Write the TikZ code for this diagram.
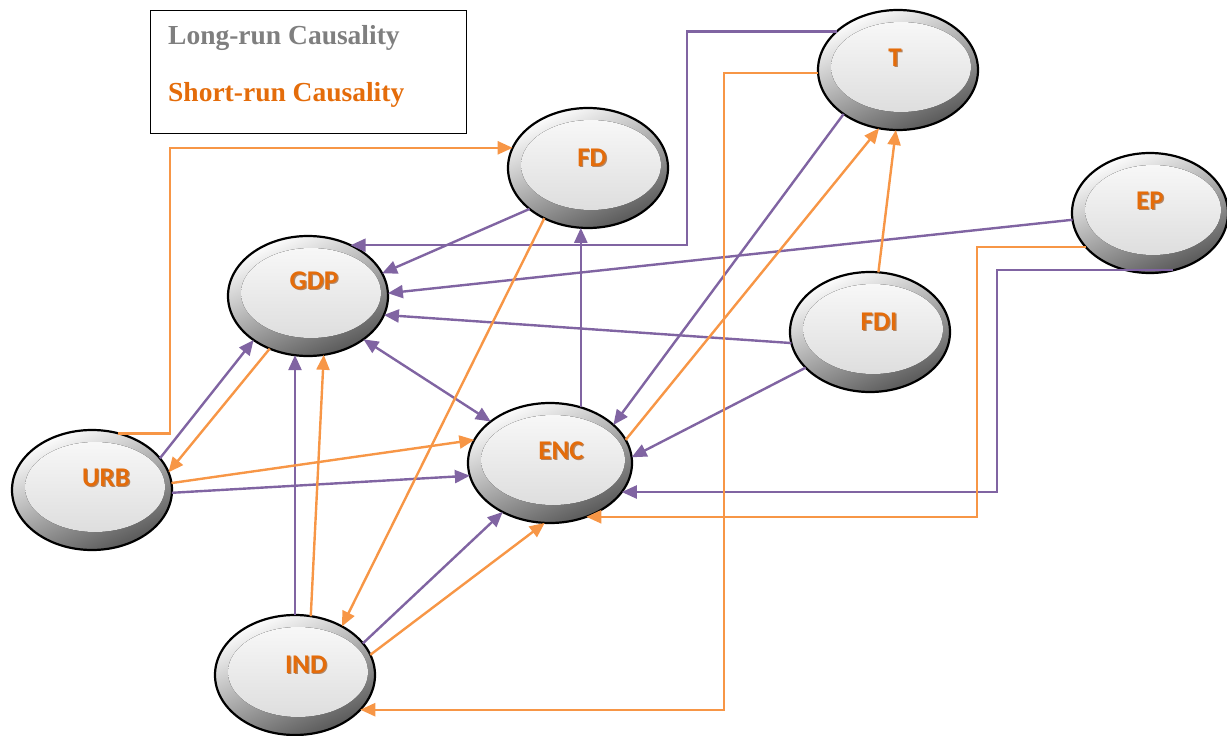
\documentclass[tikz,border=0pt]{standalone}
\usepackage{fontspec}
\setmainfont{Liberation Serif}
\newfontfamily\lblfont{Carlito}
\usetikzlibrary{arrows.meta,shapes.geometric,calc}
\definecolor{lrpurple}{RGB}{128,100,162}
\definecolor{srorange}{RGB}{247,150,70}
\definecolor{lblorange}{RGB}{228,108,10}
\definecolor{lblshadow}{RGB}{140,65,10}
\definecolor{leggray}{RGB}{127,127,127}
\begin{document}
\begin{tikzpicture}[x=1pt,y=-1pt,
  bubble/.style={ellipse, draw=black, line width=2.2pt, minimum height=120pt,
    inner sep=0pt, outer sep=0pt, top color=white, bottom color=black!66, shading angle=25},
  core/.style={top color=white!97!black, bottom color=black!13},
  lbl/.style={font=\lblfont\bfseries\fontsize{27}{27}\selectfont, text=lblorange, inner sep=0pt, anchor=base},
  lblsh/.style={lbl, text=lblshadow, opacity=0.6},
  tip/.style={-{Triangle[length=15pt,width=13pt]}},
  lr/.style={draw=lrpurple, line width=2.4pt, tip},
  sr/.style={draw=srorange, line width=2.4pt, tip},
  legtext/.style={font=\bfseries\fontsize{27.5}{28}\selectfont, inner sep=0pt, anchor=base west}
]
\useasboundingbox (0,0) rectangle (1227,736);

% legend
\node[draw=black, line width=1.2pt, minimum width=316pt, minimum height=123pt, anchor=north west, inner sep=0pt] (legend) at (150,10) {};
\node[legtext, text=leggray] (lrtext) at (168,45) {Long-run Causality};
\node[legtext, text=lblorange] (srtext) at (168,101) {Short-run Causality};

% bubbles
\foreach \n/\x/\y/\w in {T/898/70/160, FD/588/168/160, EP/1150/213/156, GDP/308/296/160,
                         FDI/870/332/160, URB/92/490/160, ENC/550/463/164, IND/295/675/160}{
  \node[bubble, minimum width=\w pt] (\n) at (\x,\y) {};
  \fill[core] ($(\n)+(3,-3)$) ellipse [x radius=\w/2-10, y radius=45];
}

% labels
\foreach \n/\x/\y in {T/895/66, FD/592/166, EP/1150/209, GDP/314/289,
                      FDI/879/330, ENC/561/459, URB/106/486, IND/306/673}{
  \node[lblsh] at (\x+1.2,\y+1.5) {\n};
  \node[lbl] (lbl\n) at (\x,\y) {\n};
}

% corner coordinates
\coordinate (pA) at (687,150);
\coordinate (pB) at (997,400);
\coordinate (oA) at (170,300);
\coordinate (oB) at (724,400);
\coordinate (oC) at (977,400);

% long-run causality (purple)
\draw[lr] (T.148) -| (pA) |- (GDP.50);
\draw[lr] (FD.215) -- (GDP.17);
\draw[lr] (EP.185) -- (GDP.2);
\draw[lr] (FDI.188) -- (GDP.346);
\draw[lr, {Triangle[length=15pt,width=13pt]}-{Triangle[length=15pt,width=13pt]}] (GDP.322) -- (ENC.145);
\draw[lr] (URB.25) -- (GDP.219);
\draw[lr] (URB.358) -- (ENC.189);
\draw[lr] (IND.90) -- (IND.90 |- GDP.257);
\draw[lr] (IND.25) -- (ENC.226);
\draw[lr] (ENC.61) -- (ENC.61 |- FD.265);
\draw[lr] (T.219) -- (ENC.31);
\draw[lr] (FDI.209) -- (ENC.4);
\draw[lr] (EP.292) -| (pB) |- (ENC.338);

% short-run causality (orange)
\draw[sr] (URB.65) -| (oA) |- (FD.165);
\draw[sr] (GDP.234) -- (URB.13);
\draw[sr] (URB.5) -- (ENC.163);
\draw[sr] (IND.75) -- (GDP.285);
\draw[sr] (FD.229) -- (IND.46);
\draw[sr] (IND.15) -- (ENC.265);
\draw[sr] (ENC.17) -- (T.252);
\draw[sr] (FDI.82) -- (T.268);
\draw[sr] (T.182) -| (oB) |- (IND.332);
\draw[sr] (EP.208) -| (oC) |- (ENC.304);
\end{tikzpicture}
\end{document}
